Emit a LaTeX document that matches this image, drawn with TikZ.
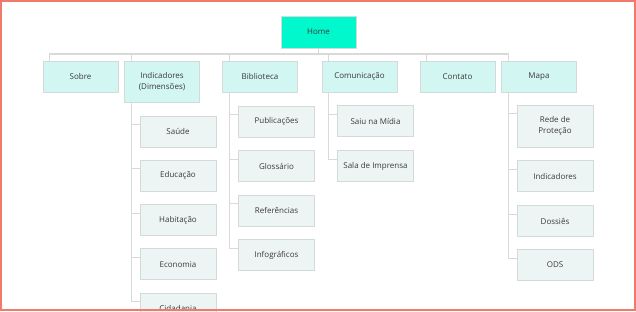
\documentclass[tikz,border=0pt]{standalone}
\usepackage{fontspec}
\setmainfont{Open Sans}

\definecolor{homecol}{HTML}{00F8CC}
\definecolor{topcol}{HTML}{D2F6F2}
\definecolor{subcol}{HTML}{EDF5F4}
\definecolor{edgecol}{HTML}{D4DADA}
\definecolor{linkcol}{HTML}{D9D9D9}
\definecolor{framecol}{HTML}{F27A6D}
\definecolor{inkcol}{HTML}{3A3A3A}

\begin{document}
\begin{tikzpicture}[x=1pt, y=-1pt,
    box/.style={rectangle, draw=edgecol, line width=0.8pt, text=inkcol, align=center, font=\fontsize{8}{11}\selectfont, minimum width=75pt, minimum height=31pt, inner sep=2pt},
    root/.style={box, fill=homecol, minimum height=32pt},
    section/.style={box, fill=topcol},
    page/.style={box, fill=subcol, minimum width=76pt},
    link/.style={draw=linkcol, line width=1.2pt}
]
\useasboundingbox (0,0) rectangle (636,311);
\clip (0,0) rectangle (636,311);

% top of the site map
\node[root] (home) at (318.5,32) {Home};
\node[section] (sobre) at (80.5,76.5) {Sobre};
\node[section, minimum height=41pt] (indic) at (162,81.5) {Indicadores\\(Dimensões)};
\node[section] (biblio) at (260,76.5) {Biblioteca};
\node[section] (comun) at (359.5,76.5) {Comunicação};
\node[section] (contato) at (457.5,76.5) {Contato};
\node[section] (mapa) at (539,76.5) {Mapa};

\coordinate (bus) at (318.5,54);
\draw[link] (home.south) -- (bus);
\foreach \s in {sobre,indic,biblio,comun,contato,mapa}
    \draw[link] ([xshift=7pt]\s.north west) |- (bus);

% pages under each section
\foreach \name/\txt [count=\i from 0] in {saude/Saúde, educ/Educação, habit/Habitação, econ/Economia, cidad/Cidadania}
    \node[page] (\name) at (178,131.5+44.25*\i) {\txt};

\foreach \name/\txt [count=\i from 0] in {publ/Publicações, gloss/Glossário, refs/Referências, info/Infográficos}
    \node[page] (\name) at (276.5,121.5+44.5*\i) {\txt};

\node[page] (midia) at (375.5,121) {Saiu na Mídia};
\node[page] (imprensa) at (375.5,166) {Sala de Imprensa};

\node[page, minimum height=42pt] (rede) at (555,126) {Rede de\\Proteção};
\node[page] (mindic) at (555,176) {Indicadores};
\node[page] (dossies) at (555,221) {Dossiês};
\node[page] (ods) at (555,265) {ODS};

\foreach \name in {saude,educ,habit,econ,cidad}
    \draw[link] ([xshift=7pt]indic.south west) |- ([yshift=-9pt]\name.north west);
\foreach \name in {publ,gloss,refs,info}
    \draw[link] ([xshift=7pt]biblio.south west) |- ([yshift=-9pt]\name.north west);
\foreach \name in {midia,imprensa}
    \draw[link] ([xshift=7pt]comun.south west) |- ([yshift=-9pt]\name.north west);
\foreach \name in {rede,mindic,dossies,ods}
    \draw[link] ([xshift=7pt]mapa.south west) |- ([yshift=-9pt]\name.north west);

% outer frame
\draw[framecol, line width=1.5pt] (0.75,0.75) rectangle (634.8,310);

\end{tikzpicture}
\end{document}
